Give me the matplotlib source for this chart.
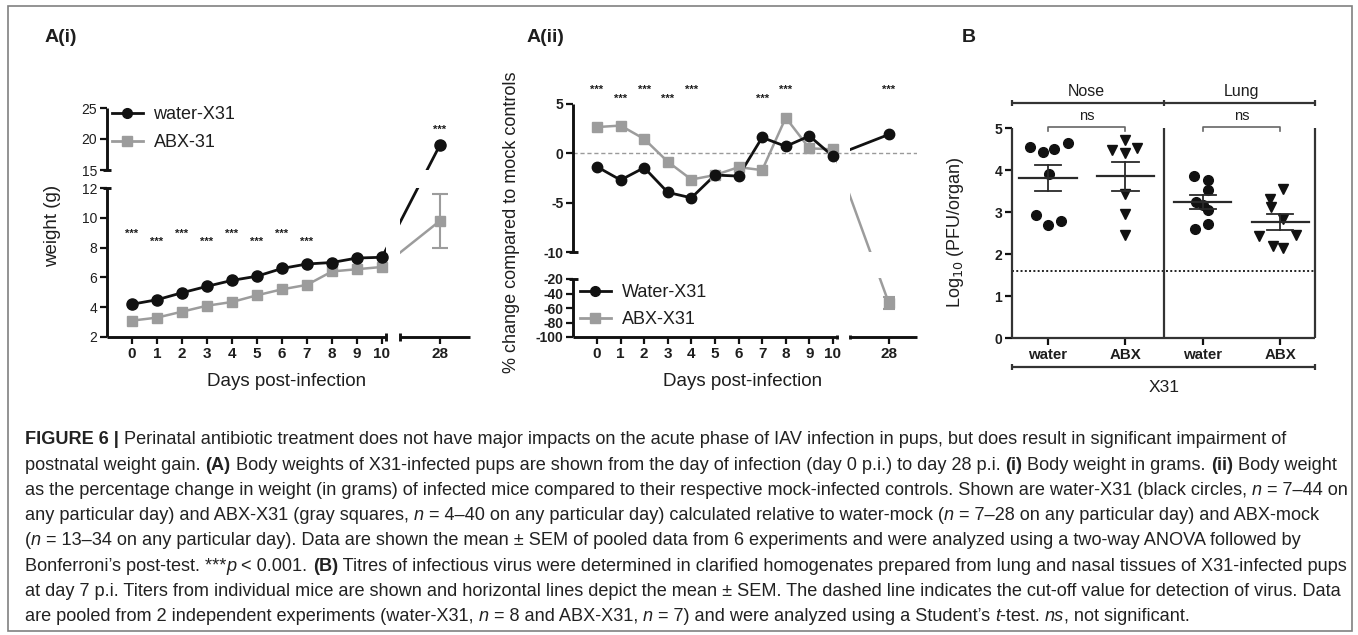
import numpy as np
import matplotlib
matplotlib.use('Agg')
import matplotlib.pyplot as plt
from matplotlib import font_manager
from matplotlib.lines import Line2D
from matplotlib.patches import Rectangle

# ---------------- data ----------------
days = [0, 1, 2, 3, 4, 5, 6, 7, 8, 9, 10, 28]
weight_water = [4.2, 4.5, 4.97, 5.4, 5.8, 6.08, 6.6, 6.9, 7.0, 7.3, 7.35, 19.05]
weight_abx = [3.1, 3.3, 3.7, 4.1, 4.35, 4.8, 5.2, 5.5, 6.4, 6.55, 6.7, 9.8]
weight_abx_day28_sem = 1.8
weight_sig_days = [0, 1, 2, 3, 4, 5, 6, 7, 28]

pct_water = [-1.36, -2.7, -1.45, -3.95, -4.5, -2.2, -2.3, 1.6, 0.7, 1.75, -0.3, 1.9]
pct_abx = [2.65, 2.8, 1.45, -0.85, -2.65, -2.2, -1.4, -1.7, 3.6, 0.5, 0.4, -53.0]
pct_abx_day28_sem = 8.0
pct_sig_days = [0, 1, 2, 3, 4, 7, 8, 28]

group_labels = ['water', 'ABX', 'water', 'ABX']
organ_labels = ['Nose', 'Lung']
nose_water = [4.55, 4.43, 4.5, 4.65, 3.9, 2.93, 2.7, 2.78]
nose_abx = [4.72, 4.48, 4.4, 4.52, 3.42, 2.95, 2.45]
lung_water = [3.85, 3.77, 3.53, 3.25, 3.17, 3.05, 2.6, 2.71]
lung_abx = [3.55, 3.31, 3.13, 2.84, 2.42, 2.46, 2.18, 2.15]
detection_cutoff = 1.6

# scatter offsets inside each group (layout only)
nose_water_dx = [-0.23, -0.065, 0.08, 0.26, 0.01, -0.155, 0.0, 0.17]
nose_abx_dx = [0.0, -0.17, 0.0, 0.15, 0.0, 0.0, 0.0]
lung_water_dx = [-0.12, 0.07, 0.07, -0.09, 0.0, 0.07, -0.1, 0.07]
lung_abx_dx = [0.04, -0.13, -0.12, 0.04, -0.28, 0.2, -0.09, 0.04]

# ---------------- figure ----------------
W, H = 1358, 635
fig = plt.figure(figsize=(W / 100, H / 100), dpi=100)
names = set(font_manager.get_font_names())
SANS = 'Liberation Sans' if 'Liberation Sans' in names else 'DejaVu Sans'
plt.rcParams['font.family'] = [SANS, 'DejaVu Sans']
TXT = '#1e1e1e'
BLK = '#111111'
GRY = '#9c9c9c'
plt.rcParams['text.color'] = TXT
plt.rcParams['xtick.color'] = BLK
plt.rcParams['ytick.color'] = BLK
plt.rcParams['xtick.labelcolor'] = TXT
plt.rcParams['ytick.labelcolor'] = TXT


def px_axes(x0, y0, x1, y1):
    return fig.add_axes([x0 / W, 1 - y1 / H, (x1 - x0) / W, (y1 - y0) / H])


def piecewise(kin, kout):
    kin = np.asarray(kin, float)
    kout = np.asarray(kout, float)

    def make(a, b):
        s0 = (b[1] - b[0]) / (a[1] - a[0])
        s1 = (b[-1] - b[-2]) / (a[-1] - a[-2])

        def f(v):
            v = np.asarray(v, float)
            out = np.interp(v, a, b)
            out = np.where(v < a[0], b[0] + (v - a[0]) * s0, out)
            out = np.where(v > a[-1], b[-1] + (v - a[-1]) * s1, out)
            return out
        return f
    return make(kin, kout), make(kout, kin)


fig.add_artist(Rectangle((7.5 / W, 1 - 631 / H), 1344 / W, 625 / H,
                         transform=fig.transFigure, fill=False,
                         edgecolor='#808080', lw=1.2))

LW = 1.6
TICKFS = 10
XTICKFS = 11
LABFS = 13.5


def style_axes(ax):
    for s in ax.spines.values():
        s.set_visible(False)
    ax.patch.set_alpha(0)
    ax.tick_params(direction='out', length=5, width=LW, labelsize=TICKFS, pad=2)
    ax.tick_params(axis='x', labelsize=XTICKFS)
    ax.yaxis.set_minor_locator(matplotlib.ticker.NullLocator())
    ax.xaxis.set_minor_locator(matplotlib.ticker.NullLocator())


kw = dict(color=BLK, lw=LW * 1.3, clip_on=False, zorder=6, solid_capstyle='butt')
h_w = Line2D([], [], color=BLK, lw=2, marker='o', ms=7)
h_a = Line2D([], [], color=GRY, lw=2, marker='s', ms=7)

# ================= A(i) =================
fx, ix = piecewise([-1.0, 10.15, 26.4, 29.2], [107, 385.75, 400, 470])
fy, iy = piecewise([2, 12, 15, 25], [0, 149, 167, 229])
ax1 = px_axes(107, 108, 470, 337)
ax1.set_xscale('function', functions=(fx, ix))
ax1.set_yscale('function', functions=(fy, iy))
ax1.set_xlim(-1.0, 29.2)
ax1.set_ylim(2, 25)
style_axes(ax1)
ax1.set_yticks([2, 4, 6, 8, 10, 12, 15, 20, 25])
ax1.set_yticklabels(['2', '4', '6', '8', '10', '12', '15', '20', '25'])
ax1.set_xticks(days)
ax1.set_xticklabels([str(d) for d in days], fontweight='bold')

ax1.plot([-1.0, -1.0], [2, 12], **kw)
ax1.plot([-1.0, -1.0], [15, 25], **kw)
ax1.plot([-1.0, 10.15], [2, 2], **kw)
ax1.plot([26.4, 29.2], [2, 2], **kw)
for yb in (12, 15):
    ax1.plot([-1.17, -0.83], [yb, yb], **kw)
ax1.plot([10.15, 10.15], [1.75, 2.25], **kw)
ax1.plot([26.4, 26.4], [1.75, 2.25], **kw)

ax1.plot(days, weight_abx, color=GRY, lw=1.8, zorder=2)
ax1.plot(days, weight_water, color=BLK, lw=2.0, zorder=3)
ax1.axvspan(10.2, 26.3, color='white', zorder=4, lw=0)
ax1.axhspan(12.05, 14.95, color='white', zorder=4, lw=0)
ax1.errorbar([days[-1]], [weight_abx[-1]], yerr=[weight_abx_day28_sem], color=GRY,
             lw=1.5, capsize=6, capthick=1.5, zorder=5, fmt='none')
ax1.plot(days, weight_abx, ls='none', marker='s', ms=7.5, color=GRY, zorder=5)
ax1.plot(days, weight_water, ls='none', marker='o', ms=8, color=BLK, zorder=6)

for d in weight_sig_days:
    if d == 28:
        yv = 21.5
    else:
        yv = 8.9 if d % 2 == 0 else 8.37
    ax1.text(d, yv, '***', ha='center', va='center', fontsize=8, fontweight='bold',
             color=TXT, clip_on=False)

ax1.legend([h_w, h_a], ['water-X31', 'ABX-31'], loc='upper left',
           bbox_to_anchor=((112 - 107) / 363, 1 + 2 / 229), frameon=False,
           fontsize=13, handlelength=1.7, handletextpad=0.6, labelspacing=0.62,
           borderpad=0, borderaxespad=0)
fig.text(53 / W, 1 - 226 / H, 'weight (g)', rotation=90, ha='center', va='center',
         fontsize=LABFS)
fig.text(287 / W, 1 - 382 / H, 'Days post-infection', ha='center', va='center',
         fontsize=LABFS)
fig.text(45 / W, 1 - 38 / H, 'A(i)', ha='left', va='center', fontsize=14, fontweight='bold')

# ================= A(ii) =================
fx2, ix2 = piecewise([-1.0, 10.15, 26.35, 29.2], [573.4, 836.5, 850, 917])
fy2, iy2 = piecewise([-100, -20, -10, 5], [0, 58, 84.7, 233.2])
ax2 = px_axes(573.4, 103.8, 917, 337)
ax2.set_xscale('function', functions=(fx2, ix2))
ax2.set_yscale('function', functions=(fy2, iy2))
ax2.set_xlim(-1.0, 29.2)
ax2.set_ylim(-100, 5)
style_axes(ax2)
ax2.set_yticks([-100, -80, -60, -40, -20, -10, -5, 0, 5])
ax2.set_yticklabels(['-100', '-80', '-60', '-40', '-20', '-10', '-5', '0', '5'],
                    fontweight='bold')
ax2.set_xticks(days)
ax2.set_xticklabels([str(d) for d in days], fontweight='bold')

ax2.plot([-1.0, -1.0], [-100, -20], **kw)
ax2.plot([-1.0, -1.0], [-10, 5], **kw)
ax2.plot([-1.0, 10.15], [-100, -100], **kw)
ax2.plot([26.35, 29.2], [-100, -100], **kw)
for yb in (-20, -10):
    ax2.plot([-1.18, -0.82], [yb, yb], **kw)
ax2.plot([10.15, 10.15], [-103, -97], **kw)
ax2.plot([26.35, 26.35], [-103, -97], **kw)

ax2.plot(days, pct_abx, color=GRY, lw=1.8, zorder=2)
ax2.plot(days, pct_water, color=BLK, lw=2.0, zorder=3)
ax2.axvspan(10.2, 26.25, color='white', zorder=4, lw=0)
ax2.axhspan(-19.8, -10.05, color='white', zorder=4, lw=0)
ax2.axhline(0, color='#9a9a9a', lw=1.0, ls=(0, (3, 2)), zorder=4.5)
ax2.errorbar([days[-1]], [pct_abx[-1]], yerr=[pct_abx_day28_sem], color=GRY,
             lw=1.5, capsize=4, capthick=1.5, zorder=5, fmt='none')
ax2.plot(days, pct_abx, ls='none', marker='s', ms=7.5, color=GRY, zorder=5)
ax2.plot(days, pct_water, ls='none', marker='o', ms=7.5, color=BLK, zorder=6)

for d in pct_sig_days:
    yv = 6.4 if d % 2 == 0 else 5.5
    ax2.text(d, yv, '***', ha='center', va='center', fontsize=8, fontweight='bold',
             color=TXT, clip_on=False)

ax2.legend([h_w, h_a], ['Water-X31', 'ABX-X31'], loc='upper left',
           bbox_to_anchor=((580 - 573.4) / 343.6, (337 - 284) / 233.2), frameon=False,
           fontsize=13, handlelength=1.7, handletextpad=0.6, labelspacing=0.55,
           borderpad=0, borderaxespad=0)
fig.text(511 / W, 1 - 222 / H, '% change compared to mock controls', rotation=90,
         ha='center', va='center', fontsize=13)
fig.text(743 / W, 1 - 382 / H, 'Days post-infection', ha='center', va='center',
         fontsize=LABFS)
fig.text(527 / W, 1 - 38 / H, 'A(ii)', ha='left', va='center', fontsize=14,
         fontweight='bold')

# ================= B =================
ax3 = px_axes(1012, 128, 1315, 338)
ax3.set_xlim(-0.466, 3.45)
ax3.set_ylim(0, 5)
style_axes(ax3)
ax3.set_xticks([0, 1, 2, 3])
ax3.set_xticklabels(group_labels, fontweight='bold', fontsize=10.8)
ax3.set_yticks([0, 1, 2, 3, 4, 5])
ax3.set_yticklabels(['0', '1', '2', '3', '4', '5'], fontweight='bold')
kw3 = dict(color='#333333', lw=LW, clip_on=False, zorder=6, solid_capstyle='butt')
ax3.plot([-0.466, -0.466], [0, 5], **kw3)
ax3.plot([1.5, 1.5], [0, 5], **kw3)
ax3.plot([3.45, 3.45], [0, 5], **kw3)
ax3.plot([-0.466, 3.45], [0, 0], **kw3)
ax3.axhline(detection_cutoff, color='#222222', lw=1.4, ls=(0, (1, 1.2)), zorder=2)

groups_vals = [nose_water, nose_abx, lung_water, lung_abx]
groups_dx = [nose_water_dx, nose_abx_dx, lung_water_dx, lung_abx_dx]
markers = ['o', 'v', 'o', 'v']
for i, (vals, dxs, mk) in enumerate(zip(groups_vals, groups_dx, markers)):
    v = np.asarray(vals)
    ax3.plot(i + np.asarray(dxs), v, ls='none', marker=mk, ms=7 if mk == 'o' else 7.5,
             color=BLK, zorder=4)
    m = v.mean()
    sem = v.std(ddof=1) / np.sqrt(len(v))
    ax3.plot([i - 0.37, i + 0.37], [m, m], color='#2a2a2a', lw=1.6, zorder=5)
    ax3.plot([i, i], [m - sem, m + sem], color='#2a2a2a', lw=1.3, zorder=5)
    for yy in (m - sem, m + sem):
        ax3.plot([i - 0.17, i + 0.17], [yy, yy], color='#2a2a2a', lw=1.3, zorder=5)

# ns brackets
for i0 in (0, 2):
    ax3.plot([i0, i0, i0 + 1, i0 + 1], [4.93, 5.03, 5.03, 4.93], color='#666666', lw=1.2,
             clip_on=False)
    ax3.text(i0 + 0.5, 5.28, 'ns', ha='center', va='center', fontsize=10.5, clip_on=False)
# organ header
ax3.plot([-0.466, 3.45], [5.6, 5.6], **kw3)
for xb in (-0.466, 1.5, 3.45):
    ax3.plot([xb, xb], [5.53, 5.67], **kw3)
ax3.text(0.5, 5.88, organ_labels[0], ha='center', va='center', fontsize=11.5, clip_on=False)
ax3.text(2.5, 5.88, organ_labels[1], ha='center', va='center', fontsize=11.5, clip_on=False)
# X31 bracket
ax3.plot([-0.466, 3.45], [-0.69, -0.69], **kw3)
for xb in (-0.466, 3.45):
    ax3.plot([xb, xb], [-0.62, -0.76], **kw3)
ax3.text(1.5, -1.18, 'X31', ha='center', va='center', fontsize=12.5, clip_on=False)
fig.text(955 / W, 1 - 232 / H, r'Log$_{10}$ (PFU/organ)', rotation=90, ha='center',
         va='center', fontsize=13)
fig.text(962 / W, 1 - 38 / H, 'B', ha='left', va='center', fontsize=14, fontweight='bold')

# ================= caption =================
caption = [
    [('FIGURE 6 |', 'b'), (' Perinatal antibiotic treatment does not have major impacts on the acute phase of IAV infection in pups, but does result in significant impairment of', '')],
    [('postnatal weight gain. ', ''), ('(A)', 'b'), (' Body weights of X31-infected pups are shown from the day of infection (day 0 p.i.) to day 28 p.i. ', ''), ('(i)', 'b'), (' Body weight in grams. ', ''), ('(ii)', 'b'), (' Body weight', '')],
    [('as the percentage change in weight (in grams) of infected mice compared to their respective mock-infected controls. Shown are water-X31 (black circles, ', ''), ('n', 'i'), (' = 7–44 on', '')],
    [('any particular day) and ABX-X31 (gray squares, ', ''), ('n', 'i'), (' = 4–40 on any particular day) calculated relative to water-mock (', ''), ('n', 'i'), (' = 7–28 on any particular day) and ABX-mock', '')],
    [('(', ''), ('n', 'i'), (' = 13–34 on any particular day). Data are shown the mean ± SEM of pooled data from 6 experiments and were analyzed using a two-way ANOVA followed by', '')],
    [('Bonferroni’s post-test. ***', ''), ('p', 'i'), (' < 0.001. ', ''), ('(B)', 'b'), (' Titres of infectious virus were determined in clarified homogenates prepared from lung and nasal tissues of X31-infected pups', '')],
    [('at day 7 p.i. Titers from individual mice are shown and horizontal lines depict the mean ± SEM. The dashed line indicates the cut-off value for detection of virus. Data', '')],
    [('are pooled from 2 independent experiments (water-X31, ', ''), ('n', 'i'), (' = 8 and ABX-X31, ', ''), ('n', 'i'), (' = 7) and were analyzed using a Student’s ', ''), ('t', 'i'), ('-test. ', ''), ('ns', 'i'), (', not significant.', '')],
]

renderer = fig.canvas.get_renderer()


def rich_line(x0, y0, pieces, size):
    x = x0
    for txt, sty in pieces:
        t = fig.text(x / W, 1 - y0 / H, txt, fontsize=size,
                     fontweight='bold' if 'b' in sty else 'normal',
                     fontstyle='italic' if 'i' in sty else 'normal',
                     ha='left', va='center', color='#222222')
        x += t.get_window_extent(renderer).width
    return x


# fit caption font so that line 1 spans the measured width
probe = fig.text(0, 0, ''.join(p[0] for p in caption[0]), fontsize=12)
wprobe = probe.get_window_extent(renderer).width
probe.remove()
cap_size = 12 * 1262 / wprobe

y = 440
for line in caption:
    rich_line(25, y, line, cap_size)
    y += 25.2

fig.savefig('out.png', dpi=100)
